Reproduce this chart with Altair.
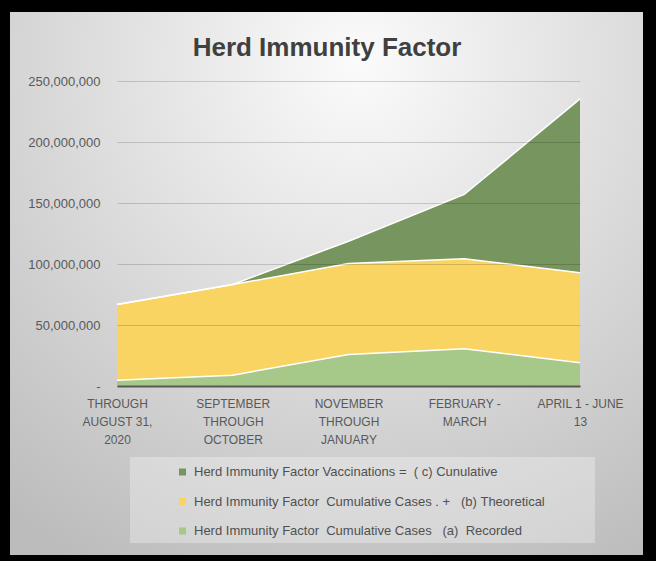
import altair as alt
import pandas as pd

# ---- data ----
categories = [
    "THROUGH|AUGUST 31,|2020",
    "SEPTEMBER|THROUGH|OCTOBER",
    "NOVEMBER|THROUGH|JANUARY",
    "FEBRUARY -|MARCH",
    "APRIL 1 - JUNE|13",
]
series_names = [
    "Herd Immunity Factor Vaccinations =  ( c) Cunulative",
    "Herd Immunity Factor  Cumulative Cases . +   (b) Theoretical",
    "Herd Immunity Factor  Cumulative Cases   (a)  Recorded",
]
vaccinations = [0, 0, 18_300_000, 52_700_000, 142_600_000]
theoretical = [62_000_000, 74_300_000, 74_600_000, 73_800_000, 73_800_000]
recorded = [4_800_000, 8_900_000, 25_800_000, 30_500_000, 19_000_000]
colors = ["#77965f", "#fad463", "#a6c98a"]
y_ticks = [0, 50_000_000, 100_000_000, 150_000_000, 200_000_000, 250_000_000]

# keep multiple spaces visible in SVG text
names = [s.replace(" ", "\u00a0") for s in series_names]

rows = []
for ord_, (name, vals) in enumerate(
    [(names[2], recorded), (names[1], theoretical), (names[0], vaccinations)]
):
    for c, v in zip(categories, vals):
        rows.append({"cat": c, "series": name, "value": v, "ord": ord_})
df = pd.DataFrame(rows)

FONT = "Liberation Sans"
W, H = 463, 305

bg = alt.Chart(alt.Data(values=[{"k": 1}])).mark_rect(
    fill={
        "gradient": "radial",
        "x1": 0.55, "y1": 0.15, "r1": 0,
        "x2": 0.55, "y2": 0.15, "r2": 0.9,
        "stops": [
            {"offset": 0, "color": "#fbfbfb"},
            {"offset": 1, "color": "#bcbcbc"},
        ],
    }
).encode(x=alt.value(-107), x2=alt.value(526), y=alt.value(-69), y2=alt.value(474))

legend_box = alt.Chart(alt.Data(values=[{"k": 1}])).mark_rect(
    fill="#ffffff", opacity=0.3
).encode(x=alt.value(13), x2=alt.value(478), y=alt.value(376), y2=alt.value(462))

base = alt.Chart(df).transform_stack(
    stack="value", groupby=["cat"], as_=["v0", "v1"],
    sort=[alt.SortField("ord", order="ascending")],
)

x_enc = alt.X(
    "cat:N",
    sort=categories,
    scale=alt.Scale(type="point", padding=0),
    axis=alt.Axis(
        title=None,
        labelExpr="split(datum.label, '|')",
        labelAngle=0,
        labelFont=FONT,
        labelFontSize=12,
        labelColor="#595959",
        labelLineHeight=18,
        labelPadding=12,
        labelBaseline="top",
        ticks=False,
        tickSize=0,
        domainColor="#595959",
        domainWidth=2,
        grid=False,
        zindex=1,
    ),
)
y_axis = alt.Axis(
    title=None,
    values=y_ticks,
    labelExpr="datum.value == 0 ? '-\u00a0\u00a0' : format(datum.value, ',')",
    labelFont=FONT,
    labelFontSize=13,
    labelColor="#595959",
    labelPadding=17,
    domain=False,
    ticks=False,
    tickSize=0,
    grid=True,
    gridColor="#000000",
    gridOpacity=0.16,
    zindex=1,
)

area = base.mark_area(opacity=1).encode(
    x=x_enc,
    y=alt.Y("v1:Q", scale=alt.Scale(domain=[0, 250_000_000], nice=False), axis=y_axis),
    y2="v0:Q",
    color=alt.Color(
        "series:N",
        scale=alt.Scale(domain=names, range=colors),
        legend=alt.Legend(
            orient="none",
            legendX=59,
            legendY=384.5,
            title=None,
            symbolType="square",
            symbolSize=49,
            symbolStrokeWidth=0,
            symbolOpacity=1,
            labelFont=FONT,
            labelFontSize=13,
            labelColor="#505050",
            labelLimit=0,
            labelOffset=5,
            rowPadding=15.5,
            padding=0,
        ),
    ),
)

edges = base.mark_line(color="white", strokeWidth=1.5).encode(
    x=x_enc,
    y=alt.Y("v1:Q"),
    detail="series:N",
)

chart = alt.layer(bg, legend_box, area, edges).properties(
    width=W,
    height=H,
    title=alt.TitleParams(
        text="Herd Immunity Factor",
        font=FONT,
        fontSize=26,
        fontWeight="bold",
        color="#404040",
        anchor="middle",
        frame="group",
        baseline="alphabetic",
        dx=-21.5,
        dy=70,
        offset=0,
    ),
    background="black",
    padding={"left": 117, "top": 81, "right": 76, "bottom": 175},
    autosize=alt.AutoSizeParams(type="none"),
).configure_view(stroke=None)

chart.save("out.html", embed_options={"renderer": "svg", "actions": False})
